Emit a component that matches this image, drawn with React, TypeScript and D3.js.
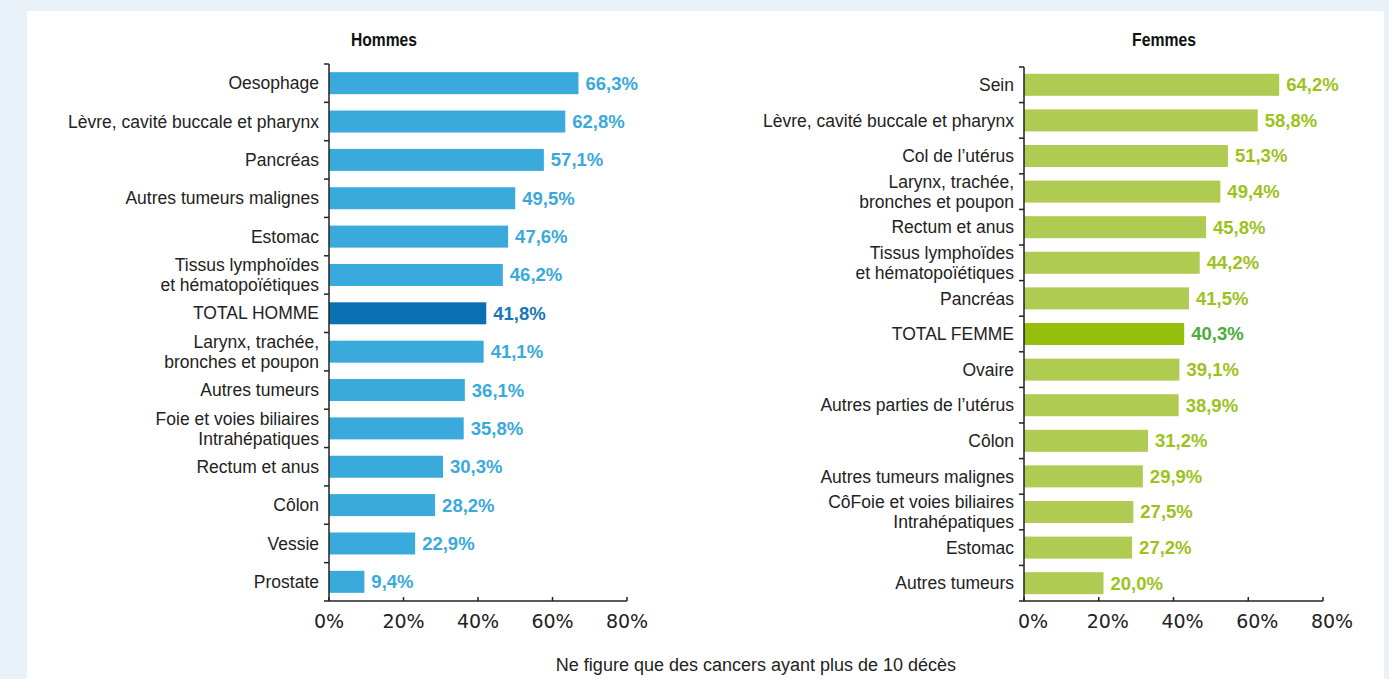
import React from "react";
import * as d3 from "d3";

const menCategories = [
  "Oesophage",
  "Lèvre, cavité buccale et pharynx",
  "Pancréas",
  "Autres tumeurs malignes",
  "Estomac",
  "Tissus lymphoïdes\net hématopoïétiques",
  "TOTAL HOMME",
  "Larynx, trachée,\nbronches et poupon",
  "Autres tumeurs",
  "Foie et voies biliaires\nIntrahépatiques",
  "Rectum et anus",
  "Côlon",
  "Vessie",
  "Prostate",
];
const menValues = [66.3, 62.8, 57.1, 49.5, 47.6, 46.2, 41.8, 41.1, 36.1, 35.8, 30.3, 28.2, 22.9, 9.4];

const womenCategories = [
  "Sein",
  "Lèvre, cavité buccale et pharynx",
  "Col de l’utérus",
  "Larynx, trachée,\nbronches et poupon",
  "Rectum et anus",
  "Tissus lymphoïdes\net hématopoïétiques",
  "Pancréas",
  "TOTAL FEMME",
  "Ovaire",
  "Autres parties de l’utérus",
  "Côlon",
  "Autres tumeurs malignes",
  "CôFoie et voies biliaires\nIntrahépatiques",
  "Estomac",
  "Autres tumeurs",
];
const womenValues = [64.2, 58.8, 51.3, 49.4, 45.8, 44.2, 41.5, 40.3, 39.1, 38.9, 31.2, 29.9, 27.5, 27.2, 20.0];

const xTicks = [0, 20, 40, 60, 80];

type PanelProps = {
  title: string;
  titleWidth: number;
  cats: string[];
  vals: number[];
  totalLabel: string;
  x0: number;
  axisWidth: number;
  barWidth80: number;
  yTop: number;
  yBottom: number;
  barColor: string;
  totalColor: string;
  labelColor: string;
  totalLabelColor: string;
  titleX: number;
  tickLabelShift: number;
};

const fmt = (v: number) => v.toFixed(1).replace(".", ",") + "%";

function Panel(p: PanelProps) {
  const axisScale = d3.scaleLinear().domain([0, 80]).range([p.x0, p.x0 + p.axisWidth]);
  const barScale = d3.scaleLinear().domain([0, 80]).range([p.x0, p.x0 + p.barWidth80]);
  const n = p.cats.length;
  const step = (p.yBottom - p.yTop) / n;
  const pad = 1 - 22 / step;
  const y = d3
    .scaleBand<string>()
    .domain(p.cats)
    .range([p.yTop, p.yBottom])
    .paddingInner(pad)
    .paddingOuter(pad / 2);
  const boundaries = d3.range(n + 1).map((i) => p.yTop + i * step);
  return (
    <g>
      <text
        x={p.titleX}
        y={46}
        textAnchor="middle"
        fontFamily="'Liberation Sans', Arial, sans-serif"
        fontWeight="bold"
        fontSize={18}
        textLength={p.titleWidth}
        lengthAdjust="spacingAndGlyphs"
        fill="#111"
      >
        {p.title}
      </text>
      {p.cats.map((c, i) => {
        const yy = y(c)!;
        const cy = yy + y.bandwidth() / 2;
        const isTotal = c === p.totalLabel;
        const lines = c.split("\n");
        const lh = 20;
        return (
          <g key={c}>
            <rect
              x={barScale(0)}
              y={yy}
              width={barScale(p.vals[i]) - barScale(0)}
              height={y.bandwidth()}
              fill={isTotal ? p.totalColor : p.barColor}
            />
            <text
              x={barScale(p.vals[i]) + 7}
              y={cy}
              dy="0.35em"
              fontFamily="'Liberation Sans', Arial, sans-serif"
              fontWeight="bold"
              fontSize={18.5}
              fill={isTotal ? p.totalLabelColor : p.labelColor}
            >
              {fmt(p.vals[i])}
            </text>
            <text
              x={p.x0 - 10}
              textAnchor="end"
              fontFamily="'Liberation Sans', Arial, sans-serif"
              fontSize={17.5}
              fill="#222"
            >
              {lines.map((l, k) => (
                <tspan key={k} x={p.x0 - 10} y={cy + (k - (lines.length - 1) / 2) * lh} dy="0.35em">
                  {l}
                </tspan>
              ))}
            </text>
          </g>
        );
      })}
      {/* vertical axis */}
      <line x1={p.x0} x2={p.x0} y1={p.yTop} y2={p.yBottom} stroke="#222" strokeWidth={1.5} />
      {boundaries.map((b, i) => (
        <line key={i} x1={p.x0 - 5} x2={p.x0} y1={b} y2={b} stroke="#222" strokeWidth={1.5} />
      ))}
      {/* horizontal axis */}
      <line x1={p.x0} x2={axisScale(80)} y1={p.yBottom} y2={p.yBottom} stroke="#222" strokeWidth={1.5} />
      {xTicks.map((t) => (
        <g key={t}>
          <line x1={axisScale(t)} x2={axisScale(t)} y1={p.yBottom - 4} y2={p.yBottom} stroke="#222" strokeWidth={1.5} />
          <text
            x={axisScale(t) + p.tickLabelShift}
            y={621}
            dy="0.35em"
            textAnchor="middle"
            fontFamily="'DejaVu Sans', sans-serif"
            fontSize={19}
            fill="#222"
          >
            {t + "%"}
          </text>
        </g>
      ))}
    </g>
  );
}

export default function App() {
  return (
    <svg
      width={1389}
      height={679}
      style={{ position: "absolute", left: 0, top: 0, display: "block" }}
    >
      <rect x={0} y={0} width={1389} height={679} fill="#e9f1f9" />
      <rect x={27} y={11} width={1357} height={680} fill="#ffffff" />
      <Panel
        title="Hommes"
        titleWidth={66}
        cats={menCategories}
        vals={menValues}
        totalLabel="TOTAL HOMME"
        x0={329}
        axisWidth={298}
        barWidth80={301}
        yTop={64}
        yBottom={601}
        barColor="#3aa9db"
        totalColor="#0b70b2"
        labelColor="#3aa9db"
        totalLabelColor="#1778b8"
        titleX={384}
        tickLabelShift={0}
      />
      <Panel
        title="Femmes"
        titleWidth={64}
        cats={womenCategories}
        vals={womenValues}
        totalLabel="TOTAL FEMME"
        x0={1024}
        axisWidth={299}
        barWidth80={318}
        yTop={67}
        yBottom={601}
        barColor="#b0cb52"
        totalColor="#96bf0d"
        labelColor="#9cc21c"
        totalLabelColor="#4aad3b"
        titleX={1164}
        tickLabelShift={9}
      />
      <text
        x={756}
        y={665}
        dy="0.35em"
        textAnchor="middle"
        fontFamily="'Liberation Sans', Arial, sans-serif"
        fontSize={18}
        fill="#222"
      >
        Ne figure que des cancers ayant plus de 10 décès
      </text>
    </svg>
  );
}
